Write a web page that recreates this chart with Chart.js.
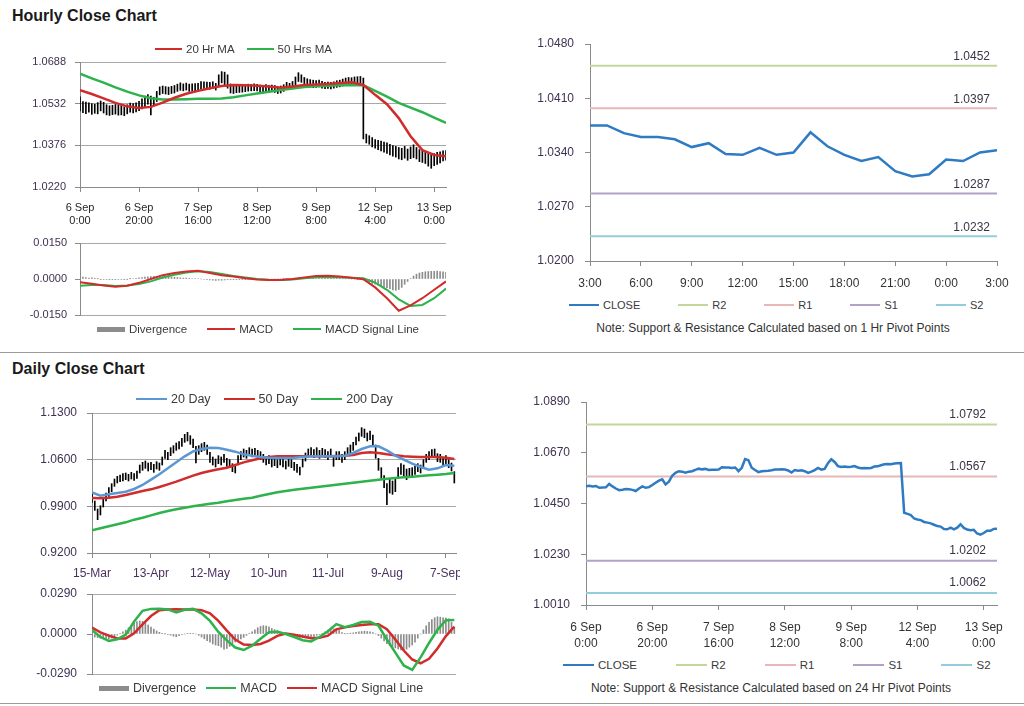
<!DOCTYPE html>
<html lang="en">
<head>
<meta charset="UTF-8">
<title>Hourly and Daily Close Charts</title>
<style>
  body { margin: 0; background: #fff; font-family: "Liberation Sans", Arial, sans-serif; color: #333; }
  .page { position: relative; width: 1024px; height: 706px; overflow: hidden; }
  .page canvas { position: absolute; }
  h2 { position: absolute; left: 12px; margin: 0; font-size: 16px; line-height: 18px; font-weight: bold; color: #1a1a1a; }
  .rule { position: absolute; left: 0; width: 1024px; height: 0; border-top: 1.5px solid #9a9a9a; }
  .legend { position: absolute; display: flex; align-items: center; white-space: nowrap; color: #3a3a3a; }
  .legend .item { display: flex; align-items: center; }
  .legend .swatch { display: inline-block; margin-right: 4px; }
  .note { position: absolute; width: 500px; text-align: center; font-size: 12px; line-height: 14px; color: #333; white-space: nowrap; }
</style>
</head>
<body>
<div class="page">
  <h2 style="top:7px">Hourly Close Chart</h2>
  <canvas id="hourPrice" width="460" height="180" style="left:0;top:50px"></canvas>
  <canvas id="hourMacd" width="460" height="88" style="left:0;top:235px"></canvas>
  <canvas id="hourPivot" width="504" height="260" style="left:520px;top:30px"></canvas>
  <div class="note" style="left:523px;top:321px">Note: Support &amp; Resistance Calculated based on 1 Hr Pivot Points</div>
  <div class="rule" style="top:352px"></div>

  <h2 style="top:360px">Daily Close Chart</h2>
  <canvas id="dayPrice" width="460" height="185" style="left:0;top:400px"></canvas>
  <canvas id="dayMacd" width="460" height="96" style="left:0;top:586px"></canvas>
  <canvas id="dayPivot" width="504" height="265" style="left:520px;top:390px"></canvas>
  <div class="note" style="left:521px;top:681px">Note: Support &amp; Resistance Calculated based on 24 Hr Pivot Points</div>
  <div class="rule" style="top:703px"></div>
</div>

<script src="https://cdn.jsdelivr.net/npm/chart.js"></script>
<script>
// ---------- hourly data: 6 Sep 0:00 .. 13 Sep 4:00, one value per hour ----------
const hourlyLabels = [['6 Sep', '0:00'], ['6 Sep', '20:00'], ['7 Sep', '16:00'], ['8 Sep', '12:00'], ['9 Sep', '8:00'], ['12 Sep', '4:00'], ['13 Sep', '0:00']];
const hourlyPriceTicks = [1.0220, 1.0376, 1.0532, 1.0688];
const hourlyMacdTicks = [-0.0150, 0, 0.0150];

const hourlyClose = [
  1.0525, 1.0527, 1.0524, 1.0526, 1.0518, 1.0519, 1.0520, 1.0535, 1.0524, 1.0515,
  1.0508, 1.0510, 1.0513, 1.0512, 1.0509, 1.0504, 1.0515, 1.0524, 1.0518, 1.0521,
  1.0530, 1.0540, 1.0549, 1.0555, 1.0533, 1.0545, 1.0570, 1.0583, 1.0590, 1.0588,
  1.0584, 1.0588, 1.0590, 1.0596, 1.0601, 1.0598, 1.0600, 1.0595, 1.0596, 1.0596,
  1.0597, 1.0607, 1.0606, 1.0606, 1.0604, 1.0606, 1.0590, 1.0605, 1.0643, 1.0638,
  1.0605, 1.0595, 1.0586, 1.0590, 1.0591, 1.0592, 1.0594, 1.0597, 1.0597, 1.0598,
  1.0597, 1.0593, 1.0584, 1.0595, 1.0592, 1.0594, 1.0590, 1.0583, 1.0588, 1.0595,
  1.0604, 1.0597, 1.0600, 1.0625, 1.0642, 1.0630, 1.0612, 1.0608, 1.0610, 1.0608,
  1.0609, 1.0612, 1.0606, 1.0603, 1.0604, 1.0603, 1.0604, 1.0610, 1.0611, 1.0616,
  1.0620, 1.0621, 1.0620, 1.0623, 1.0624, 1.0625, 1.0410, 1.0405, 1.0400, 1.0385,
  1.0381, 1.0378, 1.0370, 1.0367, 1.0364, 1.0358, 1.0352, 1.0350, 1.0339, 1.0338,
  1.0345, 1.0338, 1.0345, 1.0360, 1.0344, 1.0337, 1.0334, 1.0336, 1.0320, 1.0315,
  1.0322, 1.0332, 1.0332, 1.0340, 1.0341
];
const hourlyHigh = [
  1.0558, 1.0540, 1.0538, 1.0535, 1.0532, 1.0530, 1.0536, 1.0542, 1.0537, 1.0528,
  1.0524, 1.0526, 1.0529, 1.0527, 1.0525, 1.0520, 1.0528, 1.0534, 1.0532, 1.0535,
  1.0541, 1.0550, 1.0560, 1.0566, 1.0560, 1.0556, 1.0578, 1.0595, 1.0598, 1.0596,
  1.0594, 1.0597, 1.0600, 1.0605, 1.0610, 1.0606, 1.0609, 1.0605, 1.0606, 1.0607,
  1.0608, 1.0615, 1.0614, 1.0613, 1.0612, 1.0614, 1.0608, 1.0640, 1.0652, 1.0650,
  1.0640, 1.0606, 1.0600, 1.0602, 1.0601, 1.0602, 1.0603, 1.0605, 1.0604, 1.0606,
  1.0604, 1.0602, 1.0598, 1.0603, 1.0601, 1.0602, 1.0600, 1.0596, 1.0598, 1.0603,
  1.0612, 1.0608, 1.0615, 1.0632, 1.0648, 1.0640, 1.0630, 1.0625, 1.0622, 1.0620,
  1.0618, 1.0620, 1.0616, 1.0612, 1.0613, 1.0612, 1.0614, 1.0618, 1.0620, 1.0624,
  1.0628, 1.0630, 1.0629, 1.0632, 1.0633, 1.0634, 1.0628, 1.0418, 1.0412, 1.0405,
  1.0398, 1.0395, 1.0392, 1.0388, 1.0385, 1.0380, 1.0375, 1.0372, 1.0368, 1.0365,
  1.0372, 1.0362, 1.0370, 1.0378, 1.0368, 1.0360, 1.0355, 1.0352, 1.0345, 1.0340,
  1.0345, 1.0350, 1.0352, 1.0355, 1.0356
];
const hourlyLow = [
  1.0505, 1.0498, 1.0495, 1.0500, 1.0492, 1.0496, 1.0494, 1.0505, 1.0497, 1.0490,
  1.0488, 1.0491, 1.0493, 1.0489, 1.0490, 1.0487, 1.0494, 1.0500, 1.0497, 1.0501,
  1.0506, 1.0512, 1.0520, 1.0530, 1.0490, 1.0525, 1.0540, 1.0565, 1.0570, 1.0568,
  1.0566, 1.0570, 1.0572, 1.0578, 1.0582, 1.0580, 1.0583, 1.0578, 1.0579, 1.0580,
  1.0581, 1.0588, 1.0589, 1.0588, 1.0586, 1.0590, 1.0583, 1.0596, 1.0610, 1.0600,
  1.0590, 1.0572, 1.0570, 1.0573, 1.0574, 1.0575, 1.0577, 1.0579, 1.0580, 1.0581,
  1.0580, 1.0577, 1.0572, 1.0578, 1.0576, 1.0578, 1.0574, 1.0570, 1.0572, 1.0578,
  1.0586, 1.0585, 1.0588, 1.0595, 1.0615, 1.0612, 1.0600, 1.0595, 1.0594, 1.0592,
  1.0593, 1.0595, 1.0590, 1.0588, 1.0589, 1.0587, 1.0590, 1.0593, 1.0595, 1.0598,
  1.0602, 1.0604, 1.0603, 1.0606, 1.0605, 1.0600, 1.0400, 1.0385, 1.0380, 1.0370,
  1.0365, 1.0360, 1.0355, 1.0350, 1.0346, 1.0340, 1.0335, 1.0332, 1.0325, 1.0322,
  1.0328, 1.0320, 1.0326, 1.0330, 1.0325, 1.0315, 1.0312, 1.0308, 1.0298, 1.0290,
  1.0300, 1.0305, 1.0310, 1.0318, 1.0320
];
// smooth series read every 4 hours
const hourlyStep = 4;
const hourlyMa20 = [
  1.0582, 1.0568, 1.0552, 1.0535, 1.0522, 1.0516, 1.0520, 1.0536,
  1.0554, 1.0569, 1.0580, 1.0590, 1.0598, 1.0602, 1.0601, 1.0599,
  1.0596, 1.0592, 1.0596, 1.0602, 1.0604, 1.0606, 1.0609, 1.0612,
  1.0602, 1.0565, 1.0530, 1.0478, 1.0410, 1.0358, 1.0340, 1.0335
];
const hourlyMa50 = [
  1.0644, 1.0627, 1.0611, 1.0593, 1.0577, 1.0563, 1.0552, 1.0548,
  1.0548, 1.0549, 1.0550, 1.0550, 1.0551, 1.0556, 1.0563, 1.0570,
  1.0577, 1.0583, 1.0589, 1.0594, 1.0597, 1.0599, 1.0601, 1.0602,
  1.0601, 1.0580, 1.0558, 1.0535, 1.0517, 1.0500, 1.0480, 1.0460
];
const hourlyMacd = [
  -0.0014, -0.0020, -0.0027, -0.0032, -0.0028, -0.0016, 0.0000, 0.0016,
  0.0025, 0.0031, 0.0034, 0.0025, 0.0016, 0.0010, 0.0003, -0.0002,
  -0.0004, -0.0004, 0.0000, 0.0006, 0.0013, 0.0014, 0.0010, 0.0005,
  -0.0001, -0.0035, -0.0080, -0.0132, -0.0110, -0.0080, -0.0045, -0.0010
];
const hourlySignal = [
  -0.0028, -0.0025, -0.0025, -0.0029, -0.0027, -0.0021, -0.0010, 0.0006,
  0.0018, 0.0027, 0.0032, 0.0029, 0.0021, 0.0013, 0.0006, 0.0000,
  -0.0003, -0.0004, -0.0002, 0.0003, 0.0007, 0.0008, 0.0007, 0.0005,
  0.0003, -0.0015, -0.0045, -0.0085, -0.0112, -0.0108, -0.0080, -0.0040
];
const hourlyDivergence = [
  0.0010, 0.0008, 0.0006, 0.0004, 0.0005, 0.0003, 0.0001, -0.0001, -0.0002, -0.0002,
  -0.0003, -0.0003, -0.0003, -0.0002, -0.0002, -0.0001, -0.0001, 0.0001, 0.0002, 0.0003,
  0.0005, 0.0006, 0.0008, 0.0009, 0.0010, 0.0011, 0.0011, 0.0010, 0.0010, 0.0009,
  0.0008, 0.0008, 0.0007, 0.0006, 0.0005, 0.0004, 0.0004, 0.0003, 0.0002, 0.0002,
  0.0002, 0.0000, -0.0002, -0.0003, -0.0004, -0.0005, -0.0006, -0.0005, -0.0005, -0.0004,
  -0.0003, -0.0003, -0.0003, -0.0003, -0.0003, -0.0003, -0.0003, -0.0002, -0.0002, -0.0002,
  -0.0002, -0.0002, -0.0001, -0.0001, -0.0001, 0.0000, 0.0000, 0.0000, 0.0000, 0.0001,
  0.0001, 0.0002, 0.0002, 0.0003, 0.0003, 0.0004, 0.0004, 0.0005, 0.0005, 0.0006,
  0.0006, 0.0006, 0.0006, 0.0005, 0.0005, 0.0004, 0.0004, 0.0003, 0.0003, 0.0002,
  0.0001, 0.0001, 0.0000, 0.0000, -0.0001, -0.0002, -0.0004, -0.0010, -0.0015, -0.0019,
  -0.0022, -0.0026, -0.0030, -0.0033, -0.0036, -0.0040, -0.0045, -0.0047, -0.0044, -0.0035,
  -0.0022, -0.0010, 0.0002, 0.0012, 0.0020, 0.0025, 0.0028, 0.0030, 0.0031, 0.0032,
  0.0032, 0.0033, 0.0031, 0.0030, 0.0028
];

// ---------- 1 Hr pivot chart ----------
const pivotHourLabels = ['3:00', '6:00', '9:00', '12:00', '15:00', '18:00', '21:00', '0:00', '3:00'];
const pivotHourTicks = [1.0200, 1.0270, 1.0340, 1.0410, 1.0480];
const pivotHourClose = [
  1.0375, 1.0375, 1.0365, 1.0360, 1.0360, 1.0357, 1.0347, 1.0352, 1.0338, 1.0337,
  1.0346, 1.0337, 1.0340, 1.0366, 1.0348, 1.0337, 1.0329, 1.0334, 1.0316, 1.0309,
  1.0312, 1.0331, 1.0329, 1.0340, 1.0343
];
const levelNames = ['R2', 'R1', 'S1', 'S2'];
const pivotHourLevels = [1.0452, 1.0397, 1.0287, 1.0232];

// ---------- daily data: 15 Mar .. 10 Sep ----------
const dailyLabels = ['15-Mar', '13-Apr', '12-May', '10-Jun', '11-Jul', '9-Aug', '7-Sep'];
const dailyPriceTicks = [0.9200, 0.9900, 1.0600, 1.1300];
const dailyMacdTicks = [-0.0290, 0, 0.0290];
const dailyHigh = [
  1.010, 0.998, 0.986, 0.991, 1.003, 1.010, 1.018, 1.024, 1.031, 1.035,
  1.037, 1.039, 1.040, 1.038, 1.041, 1.039, 1.043, 1.052, 1.056, 1.058,
  1.055, 1.056, 1.053, 1.057, 1.055, 1.064, 1.074, 1.071, 1.078, 1.081,
  1.085, 1.087, 1.092, 1.098, 1.101, 1.096, 1.091, 1.080, 1.081, 1.084,
  1.086, 1.082, 1.071, 1.064, 1.061, 1.066, 1.064, 1.068, 1.062, 1.060,
  1.054, 1.052, 1.066, 1.072, 1.076, 1.074, 1.078, 1.076, 1.077, 1.074,
  1.072, 1.068, 1.064, 1.066, 1.061, 1.063, 1.060, 1.064, 1.061, 1.058,
  1.062, 1.060, 1.056, 1.053, 1.049, 1.061, 1.070, 1.076, 1.078, 1.075,
  1.078, 1.074, 1.077, 1.075, 1.072, 1.076, 1.064, 1.072, 1.072, 1.068,
  1.072, 1.078, 1.082, 1.086, 1.094, 1.100, 1.108, 1.106, 1.100, 1.103,
  1.097, 1.082, 1.062, 1.048, 1.036, 1.024, 1.032, 1.028, 1.032, 1.048,
  1.054, 1.052, 1.046, 1.047, 1.048, 1.050, 1.054, 1.052, 1.060, 1.068,
  1.072, 1.075, 1.076, 1.069, 1.068, 1.062, 1.066, 1.060, 1.055, 1.042
];
const dailyLow = [
  0.996, 0.984, 0.970, 0.977, 0.989, 0.998, 1.005, 1.012, 1.020, 1.025,
  1.027, 1.028, 1.030, 1.028, 1.031, 1.029, 1.032, 1.040, 1.044, 1.047,
  1.043, 1.045, 1.041, 1.046, 1.044, 1.052, 1.062, 1.060, 1.066, 1.070,
  1.074, 1.076, 1.080, 1.086, 1.088, 1.083, 1.078, 1.055, 1.068, 1.072,
  1.074, 1.068, 1.056, 1.052, 1.049, 1.054, 1.052, 1.056, 1.050, 1.048,
  1.042, 1.040, 1.052, 1.060, 1.064, 1.062, 1.066, 1.064, 1.065, 1.062,
  1.060, 1.056, 1.052, 1.054, 1.049, 1.051, 1.048, 1.052, 1.049, 1.046,
  1.050, 1.048, 1.044, 1.041, 1.037, 1.049, 1.058, 1.064, 1.066, 1.063,
  1.066, 1.062, 1.065, 1.063, 1.060, 1.064, 1.050, 1.060, 1.060, 1.056,
  1.060, 1.066, 1.070, 1.074, 1.082, 1.088, 1.095, 1.093, 1.088, 1.090,
  1.080, 1.062, 1.044, 1.032, 1.018, 0.9925, 1.010, 1.008, 1.012, 1.032,
  1.038, 1.036, 1.030, 1.033, 1.034, 1.038, 1.042, 1.040, 1.048, 1.056,
  1.060, 1.063, 1.064, 1.057, 1.056, 1.050, 1.054, 1.048, 1.043, 1.025
];
// smooth series read every 3 days
const dailyStep = 3;
const dailyMa20 = [
  1.011, 1.006, 1.008, 1.010, 1.012, 1.016, 1.022, 1.030, 1.038, 1.047,
  1.056, 1.065, 1.0725, 1.076, 1.078, 1.0775, 1.075, 1.072, 1.068, 1.066,
  1.064, 1.063, 1.0625, 1.0625, 1.063, 1.064, 1.065, 1.065, 1.065, 1.065,
  1.066, 1.070, 1.076, 1.080, 1.080, 1.074, 1.066, 1.060, 1.054, 1.049,
  1.045, 1.047, 1.052, 1.051
];
const dailyMa50 = [
  1.0025, 1.002, 1.003, 1.0045, 1.007, 1.010, 1.013, 1.0155, 1.019, 1.023,
  1.027, 1.0315, 1.036, 1.040, 1.043, 1.0455, 1.048, 1.052, 1.056, 1.059,
  1.062, 1.064, 1.065, 1.065, 1.065, 1.065, 1.065, 1.065, 1.065, 1.0655,
  1.066, 1.067, 1.070, 1.071, 1.070, 1.068, 1.0665, 1.065, 1.0645, 1.064,
  1.064, 1.064, 1.063, 1.061
];
const dailyMa200 = [
  0.954, 0.957, 0.960, 0.963, 0.966, 0.970, 0.973, 0.9765, 0.980, 0.983,
  0.9855, 0.988, 0.990, 0.992, 0.994, 0.9955, 0.9975, 0.9995, 1.0015, 1.003,
  1.006, 1.0085, 1.011, 1.013, 1.015, 1.0165, 1.018, 1.0195, 1.021, 1.0225,
  1.024, 1.0255, 1.027, 1.0285, 1.030, 1.0315, 1.0325, 1.0335, 1.0345, 1.0355,
  1.0365, 1.0375, 1.0385, 1.040
];
const dailyMacd = [
  0.0029, -0.0022, -0.0050, -0.0038, -0.0005, 0.0090, 0.0168, 0.0182, 0.0183, 0.0178,
  0.0156, 0.0176, 0.0182, 0.0150, 0.0095, 0.0015, -0.0046, -0.0098, -0.0116, -0.0085,
  -0.0035, 0.0012, 0.0016, 0.0000, -0.0022, -0.0045, -0.0054, -0.0022, 0.0020, 0.0072,
  0.0050, 0.0065, 0.0087, 0.0088, 0.0060, -0.0040, -0.0135, -0.0228, -0.0260, -0.0170,
  -0.0065, 0.0030, 0.0100, 0.0102
];
const dailySignal = [
  0.0046, 0.0012, -0.0012, -0.0032, -0.0032, 0.0005, 0.0070, 0.0130, 0.0172, 0.0178,
  0.0180, 0.0178, 0.0177, 0.0173, 0.0150, 0.0095, 0.0025, -0.0040, -0.0076, -0.0080,
  -0.0072, -0.0048, -0.0013, 0.0004, -0.0005, -0.0018, -0.0030, -0.0028, -0.0012, 0.0034,
  0.0048, 0.0058, 0.0066, 0.0071, 0.0071, 0.0035, -0.0040, -0.0120, -0.0185, -0.0212,
  -0.0180, -0.0105, -0.0015, 0.0053
];
const dailyDivergence = [
  -0.0017, -0.0022, -0.0026, -0.0030, -0.0033, -0.0035, -0.0036, -0.0030, -0.0020, -0.0008,
  0.0005, 0.0015, 0.0028, 0.0045, 0.0062, 0.0080, 0.0090, 0.0095, 0.0092, 0.0080,
  0.0065, 0.0050, 0.0035, 0.0022, 0.0012, 0.0005, 0.0001, -0.0002, -0.0008, -0.0015,
  -0.0020, -0.0012, -0.0005, 0.0000, 0.0003, 0.0005, 0.0004, 0.0000, -0.0010, -0.0022,
  -0.0035, -0.0048, -0.0060, -0.0072, -0.0080, -0.0085, -0.0095, -0.0110, -0.0105, -0.0090,
  -0.0075, -0.0058, -0.0045, -0.0035, -0.0025, -0.0010, 0.0005, 0.0015, 0.0030, 0.0045,
  0.0055, 0.0060, 0.0058, 0.0052, 0.0040, 0.0032, 0.0025, 0.0015, 0.0005, -0.0002,
  -0.0008, -0.0012, -0.0016, -0.0020, -0.0024, -0.0027, -0.0028, -0.0026, -0.0024, -0.0018,
  -0.0010, -0.0004, 0.0005, 0.0015, 0.0028, 0.0035, 0.0038, 0.0036, 0.0025, 0.0010,
  0.0002, 0.0004, 0.0006, 0.0008, 0.0012, 0.0016, 0.0018, 0.0020, 0.0018, 0.0015,
  0.0010, 0.0000, -0.0012, -0.0030, -0.0050, -0.0070, -0.0085, -0.0095, -0.0100, -0.0108,
  -0.0115, -0.0118, -0.0110, -0.0095, -0.0080, -0.0060, -0.0030, 0.0000, 0.0030, 0.0060,
  0.0085, 0.0105, 0.0118, 0.0125, 0.0122, 0.0118, 0.0115, 0.0110, 0.0085, 0.0050
];

// ---------- 24 Hr pivot chart (hourly closes) ----------
const pivotDayTicks = [1.0010, 1.0230, 1.0450, 1.0670, 1.0890];
const pivotDayLevels = [1.0792, 1.0567, 1.0202, 1.0062];

// ---------- styling ----------
Chart.defaults.font.family = '"Liberation Sans", Arial, sans-serif';
const GRID = '#a8a8a8', AXIS = '#8a8a8a', PURPLE = '#3f3151';
const RED = '#d12b2b', GREEN = '#2db24c', BLUE = '#5b97d3', CLOSE_BLUE = '#2e7bc4';
const LEVEL_COLORS = ['#c3d69b', '#e6b9b8', '#b3a2c7', '#93cddd'];

const series = (values, step) => values.map((v, k) => ({ x: k * step, y: v }));
const ranges = (lo, hi) => lo.map((v, i) => ({ x: i, y: [v, hi[i]] }));
const bars = values => values.map((v, i) => ({ x: i, y: v }));

function line(label, data, color, width) {
  return { type: 'line', label, data, borderColor: color, borderWidth: width, pointRadius: 0, tension: 0, order: 1 };
}

function yAxis(ticks, o) {
  return {
    min: ticks[0], max: ticks[ticks.length - 1],
    afterBuildTicks: s => { s.ticks = ticks.map(v => ({ value: v })); },
    afterFit: s => { s.width = o.width; s.paddingTop = 0; s.paddingBottom = 0; },
    border: { color: AXIS },
    grid: {
      drawOnChartArea: o.grid !== false,
      color: c => (o.hideZero && c.tick && c.tick.value === 0) ? 'rgba(0,0,0,0)' : GRID,
      tickColor: AXIS, tickLength: 5
    },
    ticks: { padding: o.pad, color: PURPLE, font: { size: o.size }, callback: v => v.toFixed(4) }
  };
}

function xAxis(max, step, labels, o) {
  if (!labels) return { type: 'linear', min: 0, max, offset: false, display: false };
  return {
    type: 'linear', min: 0, max, offset: false,
    afterBuildTicks: s => { s.ticks = labels.map((_, k) => ({ value: k * step })); },
    afterFit: s => { s.height = o.height; s.paddingLeft = 0; s.paddingRight = 0; },
    border: { color: AXIS },
    grid: { drawOnChartArea: false, offset: false, color: AXIS, tickLength: 5 },
    ticks: {
      padding: o.pad, color: o.color, font: { size: o.size, lineHeight: o.lh || 1.2 },
      autoSkip: false, maxRotation: 0, minRotation: 0,
      callback: v => labels[Math.round(v / step)]
    }
  };
}

// pivot level values written just above their lines
const levelLabels = {
  id: 'levelLabels',
  afterDatasetsDraw(chart, args, opts) {
    const { ctx, chartArea, scales } = chart;
    ctx.save();
    ctx.font = '12px "Liberation Sans", Arial, sans-serif';
    ctx.fillStyle = '#3b3346';
    ctx.textAlign = 'right';
    ctx.textBaseline = 'middle';
    opts.levels.forEach(v => ctx.fillText(v.toFixed(4), chartArea.right - opts.inset, scales.y.getPixelForValue(v) - opts.lift));
    ctx.restore();
  }
};

function makeChart(id, datasets, scales, padding, extra) {
  const cfg = {
    type: 'bar',
    data: { datasets },
    options: {
      responsive: false, animation: false,
      layout: { padding },
      plugins: { legend: { display: false }, tooltip: { enabled: false } },
      scales
    }
  };
  if (extra) {
    cfg.plugins = [levelLabels];
    cfg.options.plugins.levelLabels = extra;
  }
  return new Chart(document.getElementById(id), cfg);
}

function htmlLegend(chart, spec) {
  const box = document.createElement('div');
  box.className = 'legend';
  Object.assign(box.style, { left: spec.left + 'px', top: (spec.y - 9) + 'px', height: '18px', fontSize: spec.size + 'px', gap: spec.gap + 'px' });
  chart.data.datasets.filter(d => d.label).forEach(d => {
    const item = document.createElement('span');
    item.className = 'item';
    const sw = document.createElement('span');
    sw.className = 'swatch';
    const isBar = d.type !== 'line';
    Object.assign(sw.style, {
      width: spec.swatch + 'px',
      height: (isBar ? spec.block : Math.min(d.borderWidth, 2.5)) + 'px',
      background: isBar ? d.backgroundColor : d.borderColor
    });
    item.appendChild(sw);
    item.appendChild(document.createTextNode(d.label));
    box.appendChild(item);
  });
  document.querySelector('.page').appendChild(box);
}

function pivotDatasets(close, levels, lastX) {
  return [line('CLOSE', close, CLOSE_BLUE, 2.5)].concat(levels.map((v, k) =>
    line(levelNames[k], [{ x: 0, y: v }, { x: lastX, y: v }], LEVEL_COLORS[k], 2)));
}

// ---------- hourly close chart ----------
const hourPrice = makeChart('hourPrice', [
  line('20 Hr MA', series(hourlyMa20, hourlyStep), RED, 2.5),
  line('50 Hrs MA', series(hourlyMa50, hourlyStep), GREEN, 2.5),
  { data: ranges(hourlyLow, hourlyHigh), backgroundColor: '#000', barThickness: 1, grouped: false, order: 5 }
], {
  x: xAxis(124, 20, hourlyLabels, { height: 43, pad: 9, size: 11, color: '#262626' }),
  y: yAxis(hourlyPriceTicks, { width: 80, pad: 9, size: 11 })
}, { top: 12, right: 14, bottom: 0, left: 0 });
htmlLegend(hourPrice, { left: 155, y: 49, size: 11.5, gap: 12, swatch: 27 });

const hourMacd = makeChart('hourMacd', [
  { label: 'Divergence', data: bars(hourlyDivergence), backgroundColor: '#8c8c8c', barThickness: 1, grouped: false, order: 5 },
  line('MACD', series(hourlyMacd, hourlyStep), RED, 2),
  line('MACD Signal Line', series(hourlySignal, hourlyStep), GREEN, 2)
], {
  x: xAxis(124),
  y: yAxis(hourlyMacdTicks, { width: 80, pad: 8, size: 11, hideZero: true })
}, { top: 8, right: 14, bottom: 8, left: 0 });
htmlLegend(hourMacd, { left: 97, y: 329, size: 11.5, gap: 20, swatch: 28, block: 5 });

const hourPivot = makeChart('hourPivot', pivotDatasets(series(pivotHourClose, 1), pivotHourLevels, 24), {
  x: xAxis(24, 3, pivotHourLabels, { height: 29, pad: 10, size: 12, color: '#333' }),
  y: yAxis(pivotHourTicks, { width: 70, pad: 11, size: 12, grid: false })
}, { top: 14, right: 27, bottom: 0, left: 0 }, { levels: pivotHourLevels, inset: 7, lift: 9 });
htmlLegend(hourPivot, { left: 569, y: 305, size: 11, gap: 38, swatch: 30 });

// ---------- daily close chart ----------
const dayPrice = makeChart('dayPrice', [
  line('20 Day', series(dailyMa20, dailyStep), BLUE, 2.5),
  line('50 Day', series(dailyMa50, dailyStep), RED, 2.5),
  line('200 Day', series(dailyMa200, dailyStep), GREEN, 2.5),
  { data: ranges(dailyLow, dailyHigh), backgroundColor: '#000', barThickness: 1, grouped: false, order: 5 }
], {
  x: xAxis(129.6, 21, dailyLabels, { height: 32, pad: 8, size: 12, color: '#4a3060' }),
  y: yAxis(dailyPriceTicks, { width: 92, pad: 10, size: 12 })
}, { top: 13, right: 4, bottom: 0, left: 0 });
htmlLegend(dayPrice, { left: 136, y: 399, size: 12.5, gap: 13, swatch: 31 });

const dayMacd = makeChart('dayMacd', [
  { label: 'Divergence', data: bars(dailyDivergence), backgroundColor: '#8c8c8c', barThickness: 1, grouped: false, order: 5 },
  line('MACD', series(dailyMacd, dailyStep), GREEN, 2.5),
  line('MACD Signal Line', series(dailySignal, dailyStep), RED, 2.5)
], {
  x: xAxis(129.6),
  y: yAxis(dailyMacdTicks, { width: 92, pad: 10, size: 12, hideZero: true })
}, { top: 8, right: 4, bottom: 8, left: 0 });
htmlLegend(dayMacd, { left: 99, y: 688, size: 12.5, gap: 10, swatch: 30, block: 5 });

const dayPivot = makeChart('dayPivot', pivotDatasets(series(hourlyClose, 1), pivotDayLevels, 124), {
  x: xAxis(124, 20, hourlyLabels, { height: 50, pad: 10, size: 12, color: '#333', lh: 1.33 }),
  y: yAxis(pivotDayTicks, { width: 66, pad: 11, size: 12, grid: false })
}, { top: 12, right: 27, bottom: 0, left: 0 }, { levels: pivotDayLevels, inset: 11, lift: 10 });
htmlLegend(dayPivot, { left: 563, y: 665, size: 11.5, gap: 39, swatch: 31 });
</script>
</body>
</html>
